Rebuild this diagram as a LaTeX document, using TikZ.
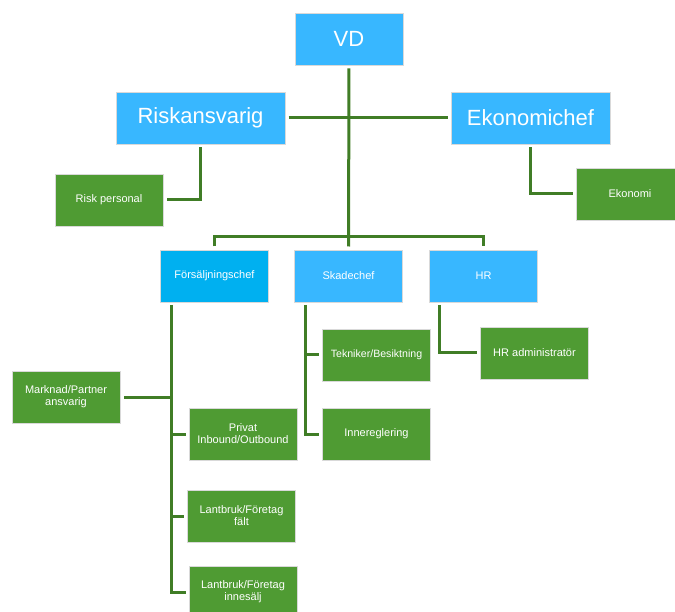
\documentclass[tikz,border=0pt]{standalone}
\usepackage{fontspec}
\setmainfont{Liberation Sans}
\definecolor{chefblue}{RGB}{56,183,255}
\definecolor{salesblue}{RGB}{0,176,240}
\definecolor{staffgreen}{RGB}{79,155,51}
\definecolor{linkgreen}{RGB}{64,125,38}
\begin{document}
\begin{tikzpicture}[x=1pt, y=-1pt,
    box/.style={draw=white!85!black, line width=0.6pt, text=white, align=center,
                minimum width=108pt, minimum height=52pt, inner sep=1pt, outer sep=3.5pt},
    bigbox/.style={box, fill=chefblue, font=\fontsize{22}{24}\selectfont},
    chef/.style={box, fill=chefblue, font=\fontsize{11}{12}\selectfont},
    staff/.style={box, fill=staffgreen, font=\fontsize{11}{12}\selectfont},
    link/.style={draw=linkgreen, line width=3pt}]
  \useasboundingbox (0,0) rectangle (675,612);
  % top level
  \node [bigbox] (vd) at (349, 39) {VD};
  \node [bigbox, minimum width=169pt] (risk) at (200.5, 118) {Riskansvarig};
  \node [bigbox, minimum width=159pt] (eko) at (530.5, 118) {Ekonomichef};
  \node [staff] (riskpers) at (109, 200) {Risk personal};
  \node [staff] (ekonomi) at (630, 194) {Ekonomi};
  % chefs
  \node [chef, fill=salesblue] (salj) at (214.5, 276) {Försäljningschef};
  \node [chef] (skada) at (348.5, 276) {Skadechef};
  \node [chef] (hr) at (483.5, 276) {HR};
  % staff
  \node [staff] (marknad) at (66, 397) {Marknad/Partner\\ansvarig};
  \node [staff] (privat) at (243, 434) {Privat\\Inbound/Outbound};
  \node [staff] (falt) at (241.5, 516) {Lantbruk/Företag\\fält};
  \node [staff] (inne) at (243, 592) {Lantbruk/Företag\\innesälj};
  \node [staff, font=\fontsize{10.6}{12}\selectfont] (tekn) at (376.5, 355) {Tekniker/Besiktning};
  \node [staff] (innereg) at (376.5, 434) {Innereglering};
  \node [staff] (hradm) at (534.5, 353) {HR administratör};
  \coordinate (bar) at (0, 237);
  \coordinate (saljv) at (171, 305);
  \coordinate (skadav) at (305, 305);
  \coordinate (hrv) at (439, 305);
  % connectors
  \draw [link] (vd) -- (skada);
  \draw [link] (risk) -- (eko);
  \draw [link] (salj.north) -- (salj.north |- bar) -| (hr.north);
  \draw [link] (risk.south) |- (riskpers.east);
  \draw [link] (eko.south) |- (ekonomi.west);
  \draw [link] (saljv) |- (inne.west);
  \draw [link] (saljv |- marknad.east) -- (marknad.east);
  \draw [link] (saljv |- privat.west) -- (privat.west);
  \draw [link] (saljv |- falt.west) -- (falt.west);
  \draw [link] (skadav) |- (innereg.west);
  \draw [link] (skadav |- tekn.west) -- (tekn.west);
  \draw [link] (hrv) |- (hradm.west);
\end{tikzpicture}
\end{document}
